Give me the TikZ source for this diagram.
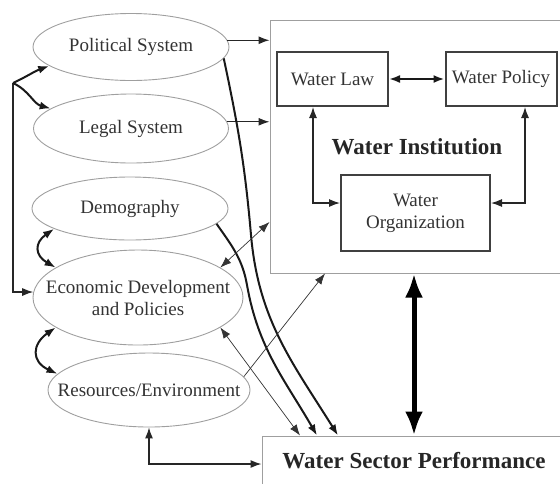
\documentclass[tikz,border=0pt]{standalone}
\usepackage{fontspec}
\setmainfont{Liberation Serif}
\usepackage{tikz}
\usetikzlibrary{shapes.geometric,arrows.meta,positioning}

\begin{document}
\begin{tikzpicture}[x=0.5pt, y=-0.5pt, >={Latex[length=5.5pt,width=4pt]},
	factor/.style={ellipse, draw=gray!75, line width=0.45pt, inner sep=0pt, align=center, text=black!80, font=\fontsize{9.5}{11}\selectfont},
	unit/.style={rectangle, draw=black!75, line width=1pt, inner sep=0pt, align=center, text=black!80, font=\fontsize{9.5}{11}\selectfont},
	frame/.style={rectangle, draw=gray!75, line width=0.5pt, inner sep=0pt},
	title/.style={font=\bfseries\fontsize{11.5}{13}\selectfont, text=black!85},
	flow/.style={line width=0.6pt, draw=black!85},
	heavy/.style={line width=1pt, draw=black!90},
	faint/.style={line width=0.35pt, draw=black!80}]
	\useasboundingbox (0,0) rectangle (560,483);
	\clip (0,0) rectangle (560,483);
	
	% Outside factors
	\node[factor, minimum width=98pt, minimum height=33.5pt] (pol) at (131,47) {Political System};
	\node[factor, minimum width=97.5pt, minimum height=34.5pt] (leg) at (131,128.5) {Legal System};
	\node[factor, minimum width=98pt, minimum height=31.5pt] (dem) at (130,208.5) {Demography};
	\node[factor, inner xsep=-9pt, minimum width=105pt, minimum height=47.5pt] (eco) at (138,297.5) {Economic Development\\and Policies};
	\node[factor, inner xsep=-10.5pt, minimum width=101pt, minimum height=37pt] (res) at (149,390) {Resources/Environment};
	
	% Water institution
	\node[frame, minimum width=152.5pt, minimum height=126.5pt] (inst) at (422.5,146.5) {};
	\node[title] (insttitle) at (417,147) {Water Institution};
	\node[unit, minimum width=55.5pt, minimum height=27pt] (law) at (332.5,79) {Water Law};
	\node[unit, minimum width=55.5pt, minimum height=27pt] (wpol) at (501,79) {Water Policy};
	\node[unit, minimum width=74.5pt, minimum height=38pt] (org) at (415.5,213) {Water\\Organization};
	
	% Performance
	\node[frame, minimum width=156.5pt, minimum height=37pt] (perf) at (418.5,473) {};
	\node[title] (perftitle) at (414,461) {Water Sector Performance};
	
	% Arrows into the institution
	\draw[flow, ->] (pol.4) -- (pol.4 -| inst.west);
	\draw[flow, ->] (leg.4) -- (leg.4 -| inst.west);
	\draw[heavy, <->] (law.east) -- (wpol.west);
	\draw[flow, <->] ([xshift=-9.75pt]law.south) |- ([yshift=5pt]org.west);
	\draw[flow, <->] ([xshift=12pt]wpol.south) |- ([yshift=5pt]org.east);
	
	% Left loop
	\coordinate (split) at (13,83);
	\draw[flow, ->] (split) |- (eco.177);
	\draw[heavy, ->] (split) to[out=25,in=200] (pol.193);
	\draw[heavy, ->] (split) to[out=-25,in=165] (leg.166);
	\draw[heavy, <->] (dem.195) to[out=215,in=150,looseness=1.6] (eco.160);
	\draw[heavy, <->] (eco.200) to[out=215,in=155,looseness=1.6] (res.170);
	
	% Links to performance
	\draw[heavy, ->] (pol.-7) to[out=-78,in=95] (251,235) to[out=-85,in=122] ([xshift=-40.25pt]perf.north);
	\draw[heavy, ->] (dem.-10) to[out=-55,in=100] (247,285) to[out=-80,in=120] ([xshift=-50.75pt]perf.north);
	\draw[faint, <->] (eco.-20) -- ([xshift=-59.25pt]perf.north);
	\draw[faint, <->] (eco.20) -- ([yshift=-37.75pt]inst.west);
	\draw[faint, ->] (res.8) -- ([xshift=-48.75pt]inst.south);
	\draw[flow, <->] (res.south) |- ([yshift=4.5pt]perf.west);
	\draw[{Latex[length=12pt,width=9pt]}-{Latex[length=12pt,width=9pt]}, line width=2.5pt] (perftitle |- inst.south) -- (perftitle |- perf.north);
\end{tikzpicture}
\end{document}
